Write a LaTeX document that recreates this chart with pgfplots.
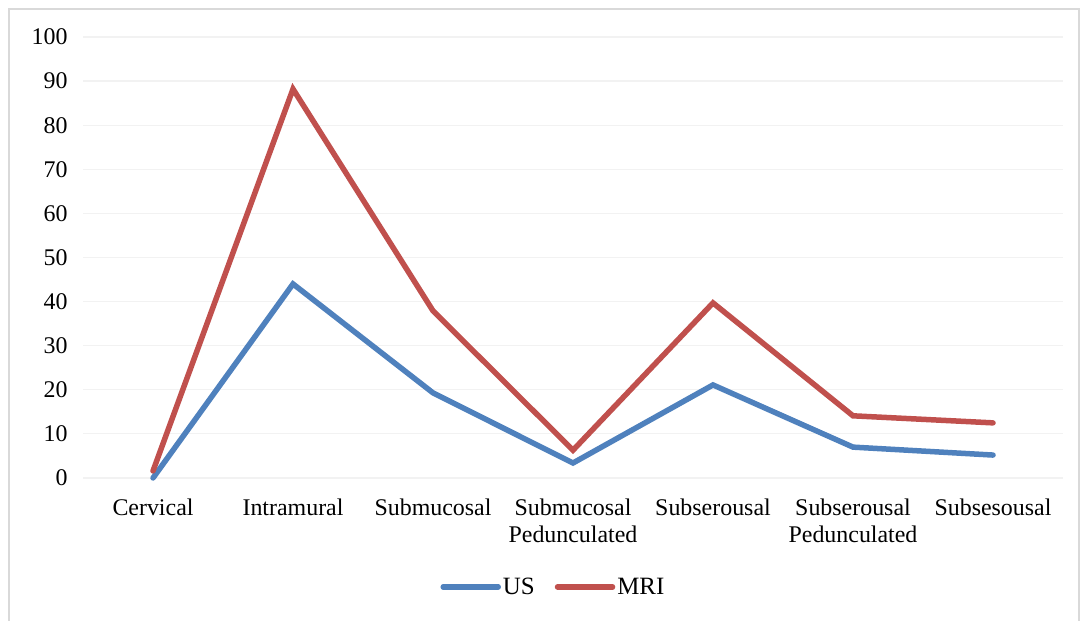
\documentclass[border=0pt]{standalone}
\usepackage{fontspec}
\setmainfont{Liberation Serif}
\usepackage{pgfplots}
\pgfplotsset{compat=1.18}
\definecolor{usblue}{HTML}{4F81BD}
\definecolor{mrired}{HTML}{C0504D}
\definecolor{gridc}{HTML}{F2F2F2}
\definecolor{framec}{HTML}{D9D9D9}
\begin{document}
\begin{tikzpicture}[x=1bp,y=1bp]
\useasboundingbox (0,0) rectangle (1083,621);
\draw[framec, line width=1.5bp] (9,-5) -- (9,612) -- (1079,612) -- (1079,-5);
\begin{axis}[
  at={(83bp,143bp)}, anchor=south west,
  scale only axis, width=980bp, height=441bp,
  xmin=-0.5, xmax=6.5, ymin=0, ymax=100,
  axis line style={draw=none},
  ytick={0,10,...,100}, xtick={0,...,6},
  xticklabels={Cervical, Intramural, Submucosal, {Submucosal\\Pedunculated}, Subserousal, {Subserousal\\Pedunculated}, Subsesousal},
  major tick length=0,
  ymajorgrids, grid style={gridc, line width=1.2bp},
  tick label style={font=\fontsize{24}{27}\selectfont},
  xticklabel style={align=center, yshift=-17bp},
  yticklabel style={xshift=-12bp},
  /pgf/number format/assume math mode=true,
  clip=false,
  legend columns=2,
  legend style={at={(0.48,-0.247)}, anchor=center, draw=none, font=\fontsize{25}{27}\selectfont,
    /tikz/every even column/.append style={column sep=18bp}},
  legend image code/.code={\draw[#1] (0bp,0bp) -- (55bp,0bp);},
]
\addplot[usblue, line width=5.5bp, line cap=round] coordinates {(0,0) (1,44.0) (2,19.3) (3,3.4) (4,21.1) (5,7.0) (6,5.2)};
\addlegendentry{US}
\addplot[mrired, line width=5.5bp, line cap=round] coordinates {(0,1.6) (1,88.2) (2,37.9) (3,6.3) (4,39.7) (5,14.1) (6,12.5)};
\addlegendentry{MRI}
\end{axis}
\end{tikzpicture}
\end{document}
